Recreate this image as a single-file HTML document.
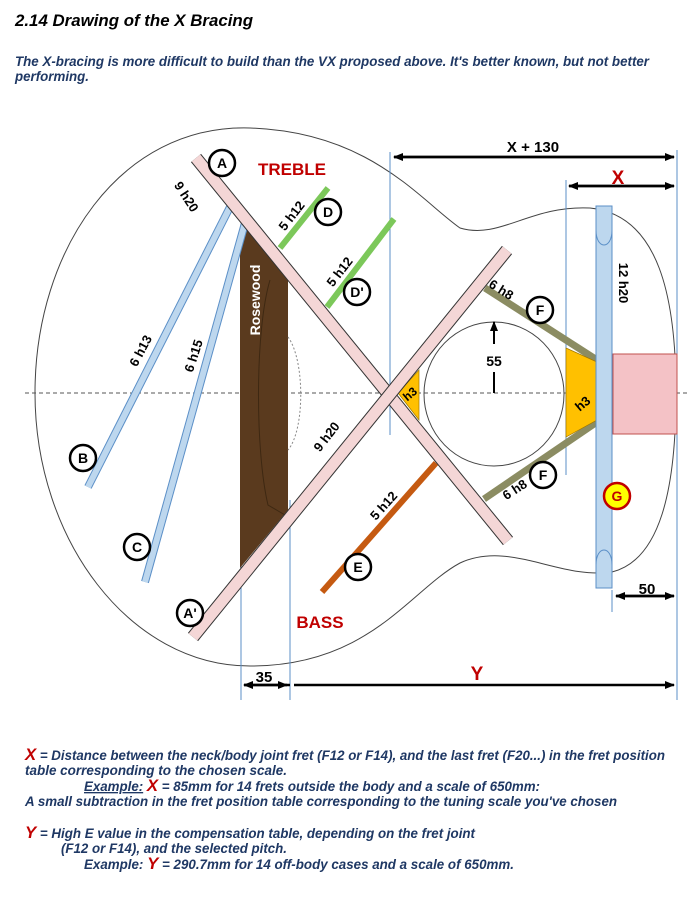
<!DOCTYPE html>
<html><head><meta charset="utf-8"><style>
html,body{margin:0;padding:0;background:#fff;}
svg{display:block;}
text{font-family:"Liberation Sans Narrow","Liberation Sans",sans-serif;}
.b{font-family:"Liberation Sans",sans-serif;font-weight:bold;}
.t{font-style:italic;font-weight:bold;fill:#1f3864;font-size:13.5px;}
.r{fill:#c00000;}
</style></head><body>
<svg width="697" height="898" viewBox="0 0 697 898" xmlns="http://www.w3.org/2000/svg">
<defs>
<marker id="ah" markerWidth="10" markerHeight="8" refX="9" refY="4" orient="auto" markerUnits="userSpaceOnUse"><path d="M0,0 L10,4 L0,8 Z" fill="#000"/></marker>
</defs>
<text x="15" y="26" style="font-style:italic;font-weight:bold;font-size:17px;" textLength="238" lengthAdjust="spacingAndGlyphs">2.14    Drawing of the X Bracing</text>
<text class="t" x="15" y="66" textLength="634" lengthAdjust="spacingAndGlyphs">The X-bracing is more difficult to build than the VX proposed above. It's better known, but not better</text>
<text class="t" x="15" y="81" textLength="74" lengthAdjust="spacingAndGlyphs">performing.</text>

<path d="M460,228 C420,200 370,132 250,128 C120,124 35,250 35,393 C35,540 130,666 250,666 C370,666 410,590 460,563 C510,540 560,580 612,572 C660,560 676,490 676,393 C676,300 660,215 590,208 C530,205 500,240 460,228 Z" fill="none" stroke="#444" stroke-width="1"/>
<line x1="25" y1="393" x2="690" y2="393" stroke="#555" stroke-width="1" stroke-dasharray="4,3"/>
<g stroke="#5b8fc7" stroke-width="1">
<line x1="241" y1="540" x2="241" y2="700"/>
<line x1="290" y1="500" x2="290" y2="700"/>
<line x1="390" y1="152" x2="390" y2="435"/>
<line x1="566" y1="180" x2="566" y2="475"/>
<line x1="677" y1="150" x2="677" y2="700"/>
<line x1="612" y1="590" x2="612" y2="612"/>
</g>
<ellipse cx="494" cy="394" rx="70" ry="72" fill="none" stroke="#444" stroke-width="1"/>
<polygon points="247,228 240,250 240,568 288,510 288,275" fill="#5a3a1e"/>
<path d="M270,280 C255,330 255,450 268,505 L285,515" fill="none" stroke="#3e2812" stroke-width="1"/>
<path d="M288,337 C305,360 305,430 288,450" fill="none" stroke="#888" stroke-width="1" stroke-dasharray="2,2"/>
<line x1="88" y1="487" x2="230" y2="207" stroke="#5b8fc7" stroke-width="8"/>
<line x1="88" y1="487" x2="230" y2="207" stroke="#bdd7ee" stroke-width="6"/>
<line x1="145" y1="582" x2="245" y2="223" stroke="#5b8fc7" stroke-width="8"/>
<line x1="145" y1="582" x2="245" y2="223" stroke="#bdd7ee" stroke-width="6"/>
<line x1="280" y1="248" x2="328" y2="188" stroke="#7cc85a" stroke-width="6"/>
<line x1="327" y1="307" x2="394" y2="219" stroke="#7cc85a" stroke-width="6"/>
<line x1="322" y1="592" x2="436" y2="463" stroke="#c55a11" stroke-width="6"/>
<line x1="485" y1="288" x2="597" y2="360" stroke="#8b8c62" stroke-width="7"/>
<line x1="484" y1="499" x2="597" y2="422" stroke="#8b8c62" stroke-width="7"/>
<polygon points="566,348 597,362 597,420 566,437" fill="#ffc000" stroke="#a07800" stroke-width="0.7"/>
<polygon points="419,370 419,420 398,393" fill="#ffc000" stroke="#a07800" stroke-width="0.7"/>
<line x1="196" y1="158" x2="508" y2="541" stroke="#333" stroke-width="13"/>
<line x1="196" y1="158" x2="508" y2="541" stroke="#f4d6d6" stroke-width="11"/>
<line x1="193" y1="637" x2="507" y2="250" stroke="#333" stroke-width="13"/>
<line x1="193" y1="637" x2="507" y2="250" stroke="#f4d6d6" stroke-width="11"/>
<rect x="596" y="206" width="16" height="382" fill="#bdd7ee" stroke="#5b8fc7" stroke-width="1"/>
<path d="M596,230 C596,250 612,250 612,230 M596,565 C596,545 612,545 612,565" fill="none" stroke="#5b8fc7" stroke-width="1"/>
<rect x="613" y="354" width="64" height="80" fill="#f4c2c6" stroke="#c0504d" stroke-width="1"/>
<line x1="494" y1="344" x2="494" y2="322" stroke="#000" stroke-width="2" marker-end="url(#ah)"/>
<line x1="494" y1="372" x2="494" y2="393" stroke="#000" stroke-width="2"/>
<text class="b" x="494" y="366" font-size="14" text-anchor="middle">55</text>
<g stroke="#000" stroke-width="2.5">
<line x1="394" y1="157" x2="674" y2="157" marker-end="url(#ah)"/>
<line x1="674" y1="157" x2="394" y2="157" marker-end="url(#ah)"/>
<line x1="569" y1="186" x2="674" y2="186" marker-end="url(#ah)"/>
<line x1="674" y1="186" x2="569" y2="186" marker-end="url(#ah)"/>
<line x1="616" y1="596" x2="674" y2="596" marker-end="url(#ah)"/>
<line x1="674" y1="596" x2="616" y2="596" marker-end="url(#ah)"/>
<line x1="294" y1="685" x2="674" y2="685" marker-end="url(#ah)"/>
<line x1="290" y1="685" x2="244" y2="685" marker-end="url(#ah)"/>
<line x1="244" y1="685" x2="287" y2="685" marker-end="url(#ah)"/>
</g>
<text class="b" x="533" y="152" font-size="15" text-anchor="middle">X + 130</text>
<text class="b r" x="618" y="184" font-size="19" text-anchor="middle">X</text>
<text class="b" x="647" y="594" font-size="15" text-anchor="middle">50</text>
<text class="b" x="264" y="682" font-size="15" text-anchor="middle">35</text>
<text class="b r" x="477" y="680" font-size="19" text-anchor="middle">Y</text>
<text class="b r" x="292" y="175" font-size="17" text-anchor="middle">TREBLE</text>
<text class="b r" x="320" y="628" font-size="17" text-anchor="middle">BASS</text>
<g class="b" font-size="13" text-anchor="middle">
<text transform="translate(186,197) rotate(57)" y="4">9 h20</text>
<text transform="translate(141,351) rotate(-62)" y="4">6 h13</text>
<text transform="translate(194,356) rotate(-72)" y="4">6 h15</text>
<text transform="translate(255,300) rotate(-90)" y="5" fill="#fff" font-size="14">Rosewood</text>
<text transform="translate(292,216) rotate(-52)" y="4">5 h12</text>
<text transform="translate(340,272) rotate(-52)" y="4">5 h12</text>
<text transform="translate(327,437) rotate(-52)" y="4">9 h20</text>
<text transform="translate(384,506) rotate(-48)" y="4">5 h12</text>
<text transform="translate(501,290) rotate(32)" y="4">6 h8</text>
<text transform="translate(515,490) rotate(-33)" y="4">6 h8</text>
<text transform="translate(410,394) rotate(-40)" y="4" font-size="12">h3</text>
<text transform="translate(583,404) rotate(-40)" y="4">h3</text>
<text transform="translate(623,283) rotate(90)" y="4">12 h20</text>
</g>
<g fill="#fff" stroke="#000" stroke-width="2.5">
<circle cx="222" cy="163" r="13"/>
<circle cx="190" cy="613" r="13"/>
<circle cx="83" cy="458" r="13"/>
<circle cx="137" cy="547" r="13"/>
<circle cx="328" cy="212" r="13"/>
<circle cx="357" cy="292" r="13"/>
<circle cx="358" cy="567" r="13"/>
<circle cx="540" cy="310" r="13"/>
<circle cx="543" cy="475" r="13"/>
</g>
<circle cx="617" cy="496" r="13" fill="#ffff00" stroke="#c00000" stroke-width="2.5"/>
<g class="b" font-size="14" text-anchor="middle">
<text x="222" y="168">A</text>
<text x="190" y="618">A'</text>
<text x="83" y="463">B</text>
<text x="137" y="552">C</text>
<text x="328" y="217">D</text>
<text x="357" y="297">D'</text>
<text x="358" y="572">E</text>
<text x="540" y="315">F</text>
<text x="543" y="480">F</text>
<text x="617" y="501" fill="#c00000">G</text>
</g>
<text class="t" x="25" y="760" textLength="640" lengthAdjust="spacingAndGlyphs"><tspan class="r" font-size="17">X</tspan> = Distance between the neck/body joint fret (F12 or F14), and the last fret (F20...) in the fret position</text>
<text class="t" x="25" y="775" textLength="262" lengthAdjust="spacingAndGlyphs">table corresponding to the chosen scale.</text>
<text class="t" x="84" y="791" textLength="456" lengthAdjust="spacingAndGlyphs"><tspan text-decoration="underline">Example:</tspan> <tspan class="r" font-size="17">X</tspan> = 85mm for 14 frets outside the body and a scale of 650mm:</text>
<text class="t" x="25" y="806" textLength="592" lengthAdjust="spacingAndGlyphs">A small subtraction in the fret position table corresponding to the tuning scale you've chosen</text>
<text class="t" x="25" y="838" textLength="450" lengthAdjust="spacingAndGlyphs"><tspan class="r" font-size="17">Y</tspan> = High E value in the compensation table, depending on the fret joint</text>
<text class="t" x="61" y="853" textLength="226" lengthAdjust="spacingAndGlyphs">(F12 or F14), and the selected pitch.</text>
<text class="t" x="84" y="869" textLength="430" lengthAdjust="spacingAndGlyphs">Example: <tspan class="r" font-size="17">Y</tspan> = 290.7mm for 14 off-body cases and a scale of 650mm.</text>
</svg>
</body></html>
